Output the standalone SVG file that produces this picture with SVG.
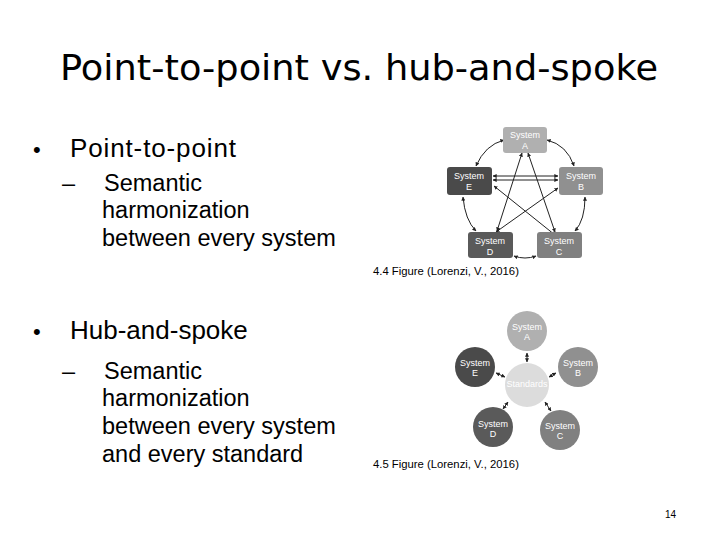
<svg xmlns="http://www.w3.org/2000/svg" width="720" height="540" viewBox="0 0 720 540">
<defs>
<marker id="ar" viewBox="0 0 6 6" refX="5.5" refY="3" markerWidth="4" markerHeight="4" orient="auto-start-reverse"><path d="M0,0 L6,3 L0,6 z" fill="#222"/></marker>
<style>
.t{font-family:"Liberation Sans",Arial,sans-serif;fill:#000}
.n{font-family:"Liberation Sans",Arial,sans-serif;font-size:9px;fill:#fff;text-anchor:middle}
.c{stroke:#222;stroke-width:1;fill:none;marker-end:url(#ar);marker-start:url(#ar)}
</style>
</defs>
<rect width="720" height="540" fill="#fff"/>
<text x="60" y="80" font-size="36" textLength="598" lengthAdjust="spacingAndGlyphs" style="font-family:'DejaVu Sans',sans-serif">Point-to-point vs. hub-and-spoke</text>
<g font-size="26">
<text x="33" y="157" class="t" font-size="22">•</text><text x="70" y="157" class="t" textLength="166">Point-to-point</text>
<text x="33" y="339" class="t" font-size="22">•</text><text x="70" y="339" class="t">Hub-and-spoke</text>
</g>
<g font-size="23.5">
<text x="62" y="191" class="t">–</text><text x="104" y="191" class="t">Semantic</text>
<text x="102" y="218" class="t">harmonization</text>
<text x="102" y="246" class="t">between every system</text>
<text x="62" y="379" class="t">–</text><text x="104" y="379" class="t">Semantic</text>
<text x="102" y="406" class="t">harmonization</text>
<text x="102" y="434" class="t">between every system</text>
<text x="102" y="462" class="t">and every standard</text>
</g>
<text class="t" x="373" y="275" font-size="11.3">4.4 Figure (Lorenzi, V., 2016)</text>
<text class="t" x="373" y="468" font-size="11.3">4.5 Figure (Lorenzi, V., 2016)</text>
<text class="t" x="676" y="518" font-size="10" text-anchor="end" fill="#444">14</text>
<g id="connectors">
<path class="c" d="M504,140 Q485,145 476,166"/>
<path class="c" d="M547,140 Q567,145 574,166"/>
<path class="c" d="M463,197 Q465,220 476,231"/>
<path class="c" d="M585,197 Q585,220 575,231"/>
<path class="c" d="M514,256 Q525,260 536,256"/>
<line class="c" x1="493" y1="180" x2="558" y2="180"/>
<line class="c" x1="493" y1="176" x2="558" y2="176"/>
<line class="c" x1="494" y1="186" x2="555" y2="235"/>
<line class="c" x1="522" y1="153" x2="497" y2="231"/>
<line class="c" x1="528" y1="153" x2="555" y2="232"/>
<line class="c" x1="496" y1="232" x2="558" y2="188"/>
<line class="c" x1="527" y1="353" x2="527" y2="362"/>
<line class="c" x1="496" y1="373" x2="505" y2="377"/>
<line class="c" x1="556" y1="373" x2="549" y2="377"/>
<line class="c" x1="508" y1="402" x2="503" y2="409"/>
<line class="c" x1="545" y1="402" x2="551" y2="411"/>
</g>
<g id="sysA"><rect x="503" y="127" width="44" height="26" rx="3" fill="#b0b0b0"/><text class="n" x="525" y="138">System</text><text class="n" x="525" y="149">A</text></g>
<g id="sysE"><rect x="447" y="167" width="45" height="28" rx="3" fill="#4a4a4a"/><text class="n" x="469" y="179">System</text><text class="n" x="469" y="190">E</text></g>
<g id="sysB"><rect x="559" y="167" width="44" height="28" rx="3" fill="#909090"/><text class="n" x="581" y="179">System</text><text class="n" x="581" y="190">B</text></g>
<g id="sysD"><rect x="468" y="232" width="45" height="26" rx="3" fill="#5a5a5a"/><text class="n" x="490" y="244">System</text><text class="n" x="490" y="255">D</text></g>
<g id="sysC"><rect x="537" y="232" width="45" height="26" rx="3" fill="#808080"/><text class="n" x="559" y="244">System</text><text class="n" x="559" y="255">C</text></g>
<g id="hub"><circle cx="527" cy="385" r="22" fill="#dcdcdc"/><text class="n" x="527" y="387" font-size="5">Standards</text></g>
<g id="hA"><circle cx="527" cy="331" r="20" fill="#b0b0b0"/><text class="n" x="527" y="330">System</text><text class="n" x="527" y="340">A</text></g>
<g id="hE"><circle cx="475" cy="367" r="20" fill="#4a4a4a"/><text class="n" x="475" y="366">System</text><text class="n" x="475" y="376">E</text></g>
<g id="hB"><circle cx="578" cy="367" r="20" fill="#909090"/><text class="n" x="578" y="366">System</text><text class="n" x="578" y="376">B</text></g>
<g id="hD"><circle cx="493" cy="427" r="20" fill="#5a5a5a"/><text class="n" x="493" y="427">System</text><text class="n" x="493" y="437">D</text></g>
<g id="hC"><circle cx="560" cy="430" r="20" fill="#808080"/><text class="n" x="560" y="429">System</text><text class="n" x="560" y="439">C</text></g>
</svg>
